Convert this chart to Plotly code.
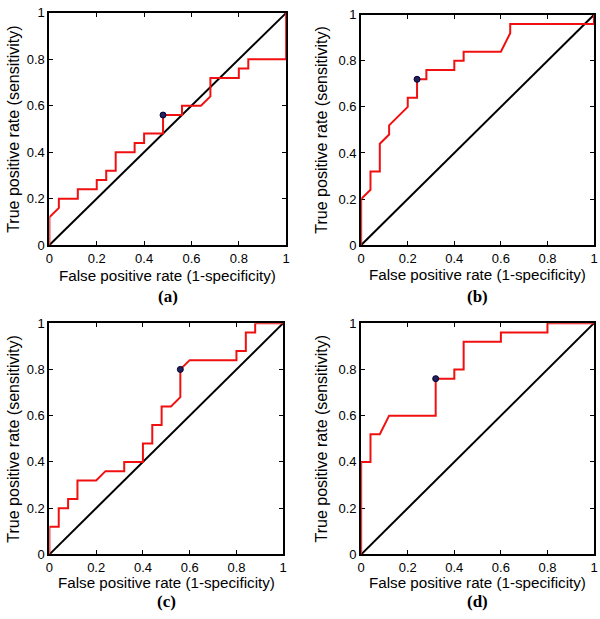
import plotly.graph_objects as go

W, H = 600, 619

# ---- data (ROC curves) ----
fpr_a = [0, 0, 0, 0.04, 0.04, 0.12, 0.12, 0.2, 0.2, 0.24, 0.24, 0.28, 0.28, 0.36, 0.36, 0.4, 0.4,
         0.48, 0.48, 0.56, 0.56, 0.64, 0.68, 0.68, 0.8, 0.8, 0.84, 0.84, 1, 1]
tpr_a = [0, 0.04, 0.12, 0.16, 0.2, 0.2, 0.24, 0.24, 0.28, 0.28, 0.32, 0.32, 0.4, 0.4, 0.44, 0.44, 0.48,
         0.48, 0.56, 0.56, 0.6, 0.6, 0.64, 0.72, 0.72, 0.76, 0.76, 0.8, 0.8, 1]
opt_a = (0.48, 0.56)

fpr_b = [0, 0, 0.04, 0.04, 0.08, 0.08, 0.12, 0.12, 0.2, 0.2, 0.24, 0.24, 0.28, 0.28, 0.4, 0.4,
         0.44, 0.44, 0.6, 0.64, 0.64, 1, 1]
tpr_b = [0, 0.2, 0.24, 0.32, 0.32, 0.44, 0.48, 0.52, 0.6, 0.64, 0.64, 0.72, 0.72, 0.76, 0.76, 0.8,
         0.8, 0.84, 0.84, 0.92, 0.96, 0.96, 1]
opt_b = (0.24, 0.72)

fpr_c = [0, 0, 0.04, 0.04, 0.08, 0.08, 0.12, 0.12, 0.2, 0.24, 0.32, 0.32, 0.4, 0.4, 0.44, 0.44,
         0.48, 0.48, 0.52, 0.56, 0.56, 0.6, 0.8, 0.8, 0.84, 0.84, 0.88, 0.88, 1]
tpr_c = [0, 0.12, 0.12, 0.2, 0.2, 0.24, 0.24, 0.32, 0.32, 0.36, 0.36, 0.4, 0.4, 0.48, 0.48, 0.56,
         0.56, 0.64, 0.64, 0.68, 0.8, 0.84, 0.84, 0.88, 0.88, 0.96, 0.96, 1, 1]
opt_c = (0.56, 0.8)

fpr_d = [0, 0, 0.04, 0.04, 0.08, 0.12, 0.32, 0.32, 0.4, 0.4, 0.44, 0.44, 0.6, 0.6, 0.8, 0.8, 1]
tpr_d = [0, 0.4, 0.4, 0.52, 0.52, 0.6, 0.6, 0.76, 0.76, 0.8, 0.8, 0.92, 0.92, 0.96, 0.96, 1, 1]
opt_d = (0.32, 0.76)

chance = [0, 1]
tick_vals = [0, 0.2, 0.4, 0.6, 0.8, 1]
tick_text = ["0", "0.2", "0.4", "0.6", "0.8", "1"]
panel_labels = ["(a)", "(b)", "(c)", "(d)"]
x_title = "False positive rate (1-specificity)"
y_title = "True positive rate (sensitivity)"

# ---- layout in pixels: (left, right, top, bottom, xtitle_y, label_y, ytitle_x)
boxes = [
    (46, 286, 6, 244, 275, 297, 10),
    (362, 598, 8, 244, 274, 297, 322),
    (46, 283, 324, 561, 590, 609, 10),
    (362, 598, 324, 561, 590, 609, 322),
]

curves = [(fpr_a, tpr_a, opt_a), (fpr_b, tpr_b, opt_b), (fpr_c, tpr_c, opt_c), (fpr_d, tpr_d, opt_d)]

def px(x):
    return x / W

def py(y):
    return 1 - y / H

fig = go.Figure()
annotations = []
SANS = "Liberation Sans, Arial, sans-serif"
font_tick = dict(family=SANS, size=13, color="black")
font_xt = dict(family=SANS, size=15.2, color="black")
font_yt = dict(family=SANS, size=16, color="black")

for i, ((fx, ty, opt), (l, r, t, b, xt_y, lab_y, yt_x)) in enumerate(zip(curves, boxes)):
    n = "" if i == 0 else str(i + 1)
    xa, ya = "x" + n, "y" + n
    fig.add_trace(go.Scatter(x=chance, y=chance, mode="lines", xaxis=xa, yaxis=ya,
                             line=dict(color="black", width=2), showlegend=False, hoverinfo="skip"))
    fig.add_trace(go.Scatter(x=fx, y=ty, mode="lines", xaxis=xa, yaxis=ya,
                             line=dict(color="#f01010", width=2), showlegend=False))
    fig.add_trace(go.Scatter(x=[opt[0]], y=[opt[1]], mode="markers", xaxis=xa, yaxis=ya,
                             marker=dict(size=6, color="#22225a", line=dict(color="#000033", width=1)),
                             showlegend=False, cliponaxis=False))
    axis_common = dict(range=[0, 1], tickvals=tick_vals, ticktext=tick_text, ticks="inside",
                       ticklen=4, tickwidth=1, tickcolor="black", showline=True, linecolor="black",
                       linewidth=2, mirror="ticks", showgrid=False, zeroline=False,
                       tickfont=font_tick, layer="below traces", fixedrange=True)
    fig.update_layout(**{
        ("xaxis" + n): dict(domain=[px(l), px(r)], anchor=ya, **axis_common),
        ("yaxis" + n): dict(domain=[py(b), py(t)], anchor=xa, **axis_common),
    })
    cx = px((l + r) / 2)
    annotations.append(dict(text=x_title, x=cx, y=py(xt_y), xref="paper", yref="paper",
                            showarrow=False, xanchor="center", yanchor="middle", font=font_xt))
    annotations.append(dict(text="<b>" + panel_labels[i] + "</b>", x=cx, y=py(lab_y),
                            xref="paper", yref="paper", showarrow=False, xanchor="center",
                            yanchor="middle",
                            font=dict(family="Liberation Serif, Times New Roman, serif", size=17,
                                      color="black")))
    annotations.append(dict(text=y_title, x=px(yt_x), y=py((t + b) / 2), xref="paper",
                            yref="paper", showarrow=False, textangle=-90, xanchor="center",
                            yanchor="middle", font=font_yt))

fig.update_layout(width=W, height=H, margin=dict(l=0, r=0, t=0, b=0),
                  paper_bgcolor="white", plot_bgcolor="white", annotations=annotations,
                  showlegend=False)

fig.write_html("out.html", config={"displayModeBar": False},
               post_script="document.body.style.margin='0';document.body.style.overflow='hidden';")
